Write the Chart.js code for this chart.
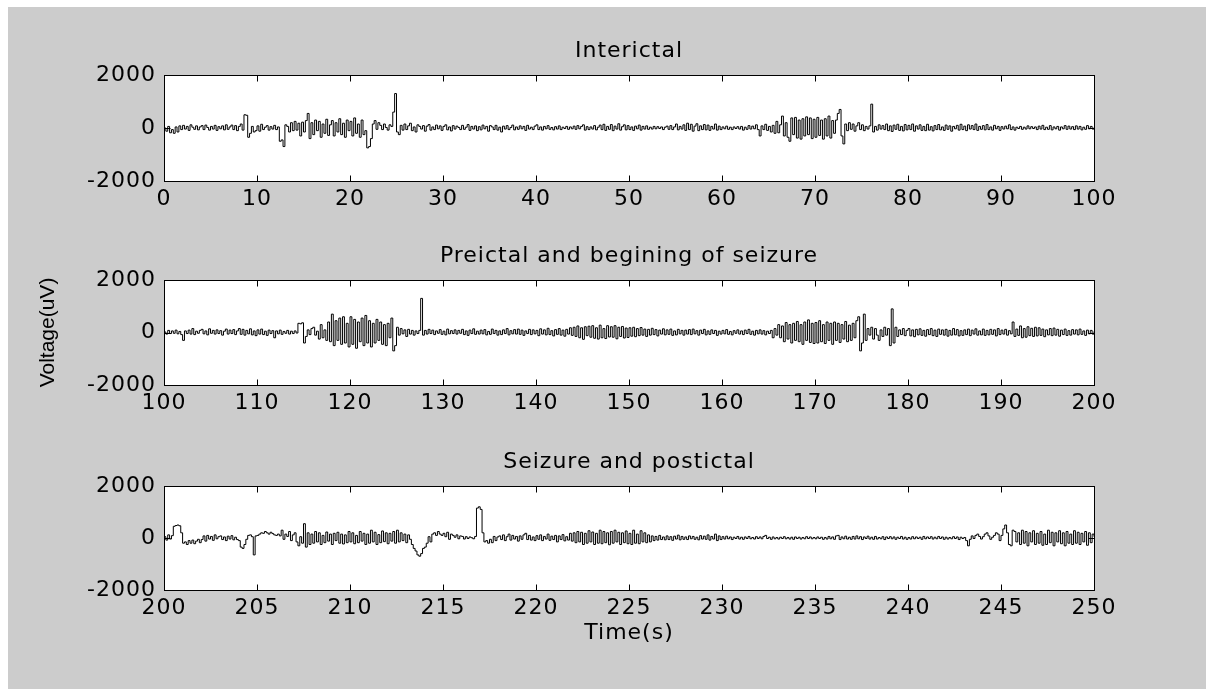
<!DOCTYPE html>
<html>
<head>
<meta charset="utf-8">
<script src="https://cdn.jsdelivr.net/npm/chart.js@4"></script>
<style>
  html, body { margin: 0; padding: 0; background: #fff; }
  body { width: 1206px; height: 689px; position: relative; overflow: hidden; }
  #bg { position: absolute; left: 8px; top: 7px; right: 0; bottom: 0; background: #cccccc; }
  canvas { position: absolute; left: 0; }
</style>
</head>
<body>
<div id="bg"></div>
<canvas id="c0"></canvas>
<canvas id="c1"></canvas>
<canvas id="c2"></canvas>
<script>
// panel titles and axes
const titles = ['Interictal', 'Preictal and begining of seizure', 'Seizure and postictal'];
const xStart = [0, 100, 200];
const xEnd = [100, 200, 250];
const xTickStep = [10, 10, 5];
const sampleStep = [0.2, 0.2, 0.1];   // seconds between readings in each panel
const yTicks = [-2000, 0, 2000];

// voltage readings (uV), one row = 10 readings
const interictal = [
  0,-120,60,-180,-60,-200,40,-150,80,-60,
  100,-40,60,-90,120,30,-50,80,-70,40,
  90,-60,110,20,-80,60,-40,100,-90,50,
  -30,80,-70,120,-50,40,110,-60,90,-100,
  60,150,-80,500,480,-350,-200,60,-150,-100,
  80,-120,140,-60,30,90,-80,50,-40,100,
  -60,40,-500,-450,-700,120,60,-150,200,-100,
  250,-80,180,-300,220,-150,280,550,-400,200,
  -250,300,-100,250,-350,150,-200,330,-280,120,
  280,-300,200,-150,350,-250,180,-350,300,-100,
  250,-300,380,-200,150,-350,300,-250,-100,-750,
  -700,-400,150,280,-50,200,100,-60,150,20,
  -80,120,60,600,1300,-150,-250,100,-80,150,
  -60,80,180,-100,40,-150,120,60,-40,90,
  -120,70,130,-80,40,-60,110,-30,80,-90,
  60,120,-70,40,-110,90,-40,70,20,-60,
  100,-50,30,130,-90,60,-40,80,-100,50,
  -70,110,-30,60,-120,90,40,-60,100,-80,
  30,-150,70,-40,90,-60,20,110,-70,40,
  -50,80,-30,60,-90,100,-40,30,-60,70,
  120,-60,40,-80,60,-30,90,-50,20,-70,
  50,-40,80,-60,30,-20,60,-50,40,-30,
  70,-50,90,-30,60,120,-80,50,-60,40,
  -40,90,-70,30,110,-60,140,-90,60,-50,
  130,-100,70,-40,160,-80,50,120,-70,90,
  -60,40,-90,70,-30,110,-80,60,-40,80,
  -50,30,-40,60,-30,50,-20,40,-60,30,
  70,-50,90,-60,40,150,-70,60,-40,120,
  -90,180,-60,140,-120,70,160,-100,80,-60,
  130,-70,110,-90,60,-40,150,-80,70,-60,
  40,-30,70,-50,30,-60,40,-20,50,-40,
  60,-80,30,-50,90,-40,70,-30,120,-60,
  -300,80,-60,140,-90,60,-150,100,-200,250,
  -180,120,450,-300,200,-350,-500,380,-250,400,
  -380,300,-420,350,-300,420,-250,380,-400,330,
  -350,400,-280,300,-420,350,-300,450,-380,280,
  -200,300,550,700,-300,-600,150,-100,200,-50,
  150,-120,80,200,-60,120,-100,60,-40,80,
  900,-150,60,-80,120,-40,90,-60,150,-100,
  80,-130,110,-50,140,-90,60,-110,130,-70,
  100,-60,150,-120,80,-40,120,-90,60,-100,
  140,-80,50,-110,90,-60,130,-70,40,-90,
  110,-50,80,-120,60,-30,100,-80,140,-60,
  70,-100,120,-40,90,-60,150,-90,60,-50,
  90,-70,130,-60,40,-80,100,-30,60,-90,
  50,-40,70,-30,120,-60,40,-80,30,-20,
  60,-50,30,-40,80,-30,50,-20,40,-60,
  70,-40,100,-60,30,-50,90,-70,40,-30,
  60,-80,40,-30,90,-50,70,-40,50,-60,
  80,-40,60,-70,30,-50,90,-30,60,-40,
  20
];
const preictal = [
  20,-60,80,-40,60,-30,90,-50,40,-80,
  -300,60,-40,90,-60,150,-80,50,-30,80,
  120,-50,60,-90,140,-30,80,-60,100,-40,
  70,-100,50,130,-60,90,-40,110,-80,60,
  150,-70,120,-100,80,-50,140,-90,60,-120,
  100,-60,130,-80,50,-110,90,-40,70,-200,
  60,-50,90,-70,40,-30,80,-60,50,-40,
  60,-20,350,330,370,-400,-150,100,-80,150,
  200,-100,50,-250,300,-200,100,-300,400,-350,
  700,-500,450,-300,550,-450,600,-400,350,-550,
  600,-450,500,-600,400,-350,550,-500,650,-400,
  450,-550,350,-400,500,-300,400,-450,300,-500,
  350,-200,550,-700,-500,200,-100,150,-50,100,
  -150,120,-60,80,-100,60,-40,80,1300,-100,
  80,-60,120,-40,90,-80,60,-30,110,-70,
  50,-90,130,-50,70,-40,100,-60,80,-30,
  120,-80,60,-110,90,-40,140,-70,50,-60,
  90,-50,110,-90,40,-70,130,-40,80,-100,
  60,-80,100,-40,150,-90,70,-50,110,-60,
  130,-70,90,-110,60,-40,120,-80,100,-50,
  80,-120,140,-60,100,-90,160,-80,70,-130,
  110,-70,150,-100,90,-140,120,-60,180,-110,
  200,-150,250,-200,180,-260,220,-120,240,-180,
  260,-220,180,-250,280,-200,150,-230,260,-170,
  220,-180,260,-240,200,-150,230,-210,170,-190,
  180,-140,200,-160,150,-120,190,-100,130,-150,
  120,-100,160,-80,110,-130,90,-60,140,-90,
  100,-70,130,-110,60,-90,120,-50,80,-100,
  90,-60,110,-80,130,-50,70,-100,90,-40,
  120,-90,60,-70,100,-40,80,-110,50,-60,
  80,-50,110,-70,40,-90,70,-30,100,-60,
  60,-80,90,-40,120,-70,50,-100,80,-50,
  100,-60,70,-90,50,-40,80,-200,150,-100,
  300,-200,250,-350,380,-250,300,-400,350,-300,
  420,-350,300,-450,400,-300,480,-380,350,-420,
  380,-400,450,-350,300,-420,400,-300,350,-450,
  400,-300,350,-380,300,-250,420,-350,280,-300,
  350,-200,450,600,-700,-400,700,-300,150,-100,
  200,-250,150,-100,-300,100,-150,200,-100,150,
  -500,900,-400,200,-150,100,-80,150,-120,80,
  150,-130,100,-160,120,-90,140,-110,80,-140,
  110,-80,150,-120,90,-150,130,-70,100,-100,
  120,-140,80,-100,150,-90,110,-130,70,-110,
  100,-80,130,-120,90,-60,140,-100,60,-90,
  130,-110,80,-90,120,-70,100,-130,150,-80,
  90,-60,120,-100,70,-50,400,-150,130,-110,
  250,-200,150,-180,220,-120,160,-150,200,-130,
  180,-110,130,-160,100,-90,150,-120,170,-100,
  120,-140,90,-80,130,-110,70,-100,110,-60,
  100,-90,130,-70,60,-110,90,-50,80,-60,
  40
];
const seizure = [
  50,-80,120,-40,90,450,480,500,470,200,
  -200,-150,-250,-100,-200,-80,-220,-120,-50,-180,
  -60,80,-120,100,-40,60,-90,120,-30,50,
  80,-60,40,-100,70,-40,90,-70,30,-60,
  -100,-350,-400,-250,-50,100,120,50,-650,80,
  100,150,200,180,250,200,150,220,170,120,
  100,150,80,300,-50,150,60,250,-100,120,
  200,-150,-300,50,-200,550,-350,200,-250,150,
  -200,250,-150,200,-250,100,-180,230,-120,150,
  -250,180,-100,220,-200,150,-230,120,-180,250,
  -150,200,-220,100,-180,250,-120,180,-250,150,
  -200,300,-150,220,-250,130,-180,270,-140,200,
  -220,180,-120,250,-200,300,-150,200,-100,150,
  -180,120,-50,-250,-400,-500,-650,-700,-600,-400,
  -350,-200,50,-150,150,200,100,250,150,100,
  180,50,220,-50,150,100,30,120,-30,80,
  60,-40,50,-20,40,10,-30,60,1150,1200,
  1100,200,-150,-100,-200,-50,-180,60,-100,40,
  80,-60,120,-100,50,150,-80,100,-40,60,
  -120,80,-50,120,180,-60,100,-80,40,-100,
  90,-50,120,-100,60,-40,150,-90,70,-60,
  100,-150,80,-60,130,-110,50,-80,180,-120,
  200,-180,250,-150,220,-250,180,-200,280,-150,
  230,-250,180,-200,300,-220,250,-180,200,-260,
  250,-200,300,-150,220,-250,200,-180,270,-220,
  180,-250,300,-200,150,-220,280,-150,200,-180,
  120,-150,80,-100,60,-80,100,-60,40,-70,
  80,-60,50,-90,70,-40,110,-70,60,-50,
  40,-60,80,-30,60,-50,30,-70,90,-40,
  70,-50,120,-80,60,-40,150,-100,80,-60,
  50,-40,70,-30,40,-60,30,-20,60,-40,
  30,-50,40,-20,60,-30,20,-40,50,-20,
  40,-30,60,100,-20,30,-50,40,-30,20,
  -40,30,-20,50,-30,20,-40,30,-50,40,
  -20,30,-40,20,-30,50,-20,40,-30,20,
  -30,40,-20,30,-50,20,-40,60,-30,40,
  -50,80,100,-60,40,-30,70,-40,30,-50,
  60,-40,80,-30,50,-60,40,-20,70,-40,
  30,-50,60,-40,20,-30,50,-60,40,-20,
  50,-30,40,-50,30,-20,60,-40,30,-50,
  20,-40,50,-30,40,-20,30,-50,60,-30,
  40,-20,50,-40,30,-30,60,-20,40,-50,
  30,-40,20,-30,50,-20,40,-60,30,-20,
  20,-100,-300,-50,80,-20,100,150,60,-40,
  50,150,200,80,-50,30,100,200,150,-100,
  100,350,500,200,-250,-300,300,250,-150,200,
  -250,300,-200,250,-300,200,-150,280,-250,180,
  -200,250,-280,150,-250,300,-180,220,-300,200,
  -150,280,-220,200,-300,250,-200,150,-250,280,
  -200,220,-250,180,-150,250,-280,200,-180,150,
  50
];
const series = [interictal, preictal, seizure];

// page layout
const TEXT_FONT = { family: '"DejaVu Sans", sans-serif', size: 22, lineHeight: 1 };
const YLABEL_FONT = { family: '"Liberation Sans", Arial, sans-serif', size: 21 };
const plotTop = [75, 280, 486];
const plotBottom = [181, 385, 590];
const titleH = 35;   // 22px title line + 13px gap

const frame = {
  id: 'frame',
  beforeDraw(chart) {
    const { ctx, chartArea: a } = chart;
    ctx.letterSpacing = '1px';   // the reference text is set wide
    ctx.save();
    ctx.fillStyle = '#fff';
    ctx.fillRect(a.left, a.top, a.right - a.left, a.bottom - a.top);
    ctx.restore();
  },
  afterDraw(chart) {
    const { ctx, chartArea: a, scales } = chart;
    const L = Math.round(a.left) + 0.5, R = Math.round(a.right) + 0.5;
    const T = Math.round(a.top) + 0.5, B = Math.round(a.bottom) + 0.5;
    ctx.save();
    ctx.strokeStyle = '#000';
    ctx.lineWidth = 1;
    ctx.beginPath();
    scales.x.ticks.forEach(t => {
      const px = Math.round(scales.x.getPixelForValue(t.value)) + 0.5;
      ctx.moveTo(px, T); ctx.lineTo(px, T + 6);
      ctx.moveTo(px, B); ctx.lineTo(px, B - 6);
    });
    scales.y.ticks.forEach(t => {
      const py = Math.round(scales.y.getPixelForValue(t.value)) + 0.5;
      ctx.moveTo(L, py); ctx.lineTo(L + 6, py);
      ctx.moveTo(R, py); ctx.lineTo(R - 6, py);
    });
    ctx.stroke();
    ctx.strokeRect(L, T, R - L, B - T);
    ctx.restore();
  }
};

function makePanel(k) {
  const cv = document.getElementById('c' + k);
  const axisH = k === 2 ? 60 : 40;
  const top = plotTop[k] - titleH;
  cv.width = 1206;
  cv.height = plotBottom[k] - top + axisH;
  cv.style.top = top + 'px';

  const pts = series[k].map((v, i) => ({ x: +(xStart[k] + i * sampleStep[k]).toFixed(2), y: v }));

  return new Chart(cv, {
    type: 'line',
    data: {
      datasets: [{
        data: pts,
        borderColor: '#000',
        borderWidth: 1,
        pointRadius: 0,
        stepped: true,
        fill: false
      }]
    },
    options: {
      responsive: false,
      animation: false,
      events: [],
      layout: { padding: { left: 0, right: 112, top: 0, bottom: 0 } },
      plugins: {
        legend: { display: false },
        tooltip: { enabled: false },
        title: {
          display: true,
          fullSize: false,
          text: titles[k],
          color: '#000',
          font: { ...TEXT_FONT, weight: 'normal' },
          padding: { top: 0, bottom: 13 }
        }
      },
      scales: {
        x: {
          type: 'linear',
          min: xStart[k],
          max: xEnd[k],
          grid: { display: false, drawTicks: false },
          border: { display: false },
          ticks: {
            stepSize: xTickStep[k],
            autoSkip: false,
            maxRotation: 0,
            padding: 7,
            color: '#000',
            font: TEXT_FONT,
            callback: v => String(v)
          },
          title: {
            display: k === 2,
            text: 'Time(s)',
            color: '#000',
            font: TEXT_FONT,
            padding: { top: 0, bottom: 6 }
          },
          afterFit: s => { s.height = axisH; s.paddingLeft = 0; s.paddingRight = 0; }
        },
        y: {
          min: yTicks[0],
          max: yTicks[yTicks.length - 1],
          grid: { display: false, drawTicks: false },
          border: { display: false },
          afterBuildTicks: s => { s.ticks = yTicks.map(v => ({ value: v })); },
          ticks: {
            padding: 8,
            color: '#000',
            font: TEXT_FONT,
            callback: v => String(v)
          },
          title: {
            display: k === 1,
            text: 'Voltage(uV)',
            color: '#000',
            font: YLABEL_FONT,
            padding: { top: 36, bottom: 0 }
          },
          afterFit: s => {
            s.width = 164; s.paddingTop = 0; s.paddingBottom = 0;
            if (!s.plainTitle) {
              // rotated label keeps normal spacing
              const draw = s.drawTitle;
              s.drawTitle = function () {
                this.ctx.letterSpacing = '0px';
                draw.call(this);
                this.ctx.letterSpacing = '1px';
              };
              s.plainTitle = true;
            }
          }
        }
      }
    },
    plugins: [frame]
  });
}

[0, 1, 2].forEach(makePanel);
</script>
</body>
</html>
